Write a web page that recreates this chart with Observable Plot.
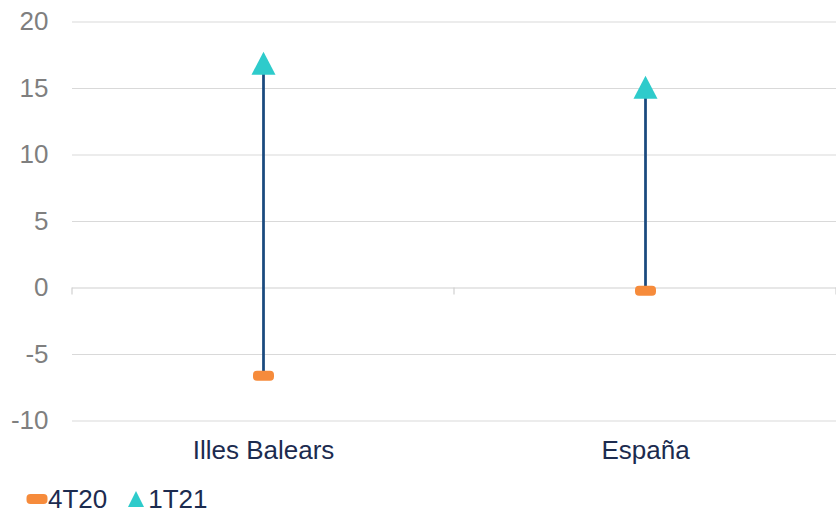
<!DOCTYPE html>
<html>
<head>
<meta charset="utf-8">
<script src="https://cdn.jsdelivr.net/npm/d3@7"></script>
<script src="https://cdn.jsdelivr.net/npm/@observablehq/plot@0.6"></script>
<style>
  html, body { margin: 0; padding: 0; background: #fff; }
  #wrap { position: relative; width: 836px; height: 513px; font-family: "Liberation Sans", Arial, sans-serif; }
  #legend { position: absolute; left: 0; top: 484px; height: 30px; display: flex; align-items: center; font-size: 26px; color: #1c2b4f; }
  #legend .item { display: flex; align-items: center; }
</style>
</head>
<body>
<div id="wrap">
  <div id="chart"></div>
  <div id="legend"></div>
</div>
<script>
const categories = ["Illes Balears", "España"];
const series = ["4T20", "1T21"];
const values4T20 = [-6.6, -0.2];
const values1T21 = [16.9, 15.1];
const yTicks = [-10, -5, 0, 5, 10, 15, 20];

const colors = { "4T20": "#F68B3B", "1T21": "#2ECBCB" };
const lineColor = "#1A4A7E";

const data = categories.map((c, i) => ({ cat: c, a: values4T20[i], b: values1T21[i] }));

const roundRect = {
  draw(ctx) {
    const w = 21, h = 10, r = 4;
    const x0 = -w / 2, y0 = -h / 2, x1 = w / 2, y1 = h / 2;
    ctx.moveTo(x0 + r, y0);
    ctx.lineTo(x1 - r, y0);
    ctx.arcTo(x1, y0, x1, y0 + r, r);
    ctx.lineTo(x1, y1 - r);
    ctx.arcTo(x1, y1, x1 - r, y1, r);
    ctx.lineTo(x0 + r, y1);
    ctx.arcTo(x0, y1, x0, y1 - r, r);
    ctx.lineTo(x0, y0 + r);
    ctx.arcTo(x0, y0, x0 + r, y0, r);
    ctx.closePath();
  }
};
const triangle = {
  draw(ctx) {
    const w = 24, h = 23;
    ctx.moveTo(0, -h / 2);
    ctx.lineTo(w / 2, h / 2);
    ctx.lineTo(-w / 2, h / 2);
    ctx.closePath();
  }
};

const chart = Plot.plot({
  width: 836,
  height: 470,
  marginLeft: 72,
  marginRight: 0,
  marginTop: 21.5,
  marginBottom: 49.5,
  style: { fontFamily: "'Liberation Sans', Arial, sans-serif", fontSize: "26px", background: "#fff" },
  x: { type: "band", domain: categories, padding: 0, align: 0.5 },
  y: { domain: [-10, 20], ticks: yTicks },
  marks: [
    Plot.ruleY(yTicks.filter(d => d !== 0), { stroke: "#d9d9d9", strokeWidth: 1.2 }),
    Plot.ruleY([0], { stroke: "#d0d0d0", strokeWidth: 1.2 }),
    Plot.axisY({ ticks: yTicks, tickSize: 0, tickPadding: 24, fontSize: 26, fill: "#7f7f7f", label: null, tickFormat: d => String(d) }),
    Plot.axisX({ tickSize: 0, tickPadding: 19.5, fontSize: 26, fill: "#1c2b4f", label: null }),
    Plot.ruleX(data, { x: "cat", y1: "a", y2: "b", stroke: lineColor, strokeWidth: 2.75 }),
    Plot.dot(data, { x: "cat", y: "a", symbol: roundRect, r: 6, fill: colors["4T20"] }),
    Plot.dot(data, { x: "cat", y: "b", symbol: triangle, r: 6, fill: colors["1T21"] })
  ]
});

// category boundary tick marks on the zero axis
const xs = chart.scale("x");
const ys = chart.scale("y");
const y0 = ys.apply(0);
const step = xs.step;
const bounds = [];
categories.forEach((c, i) => { bounds.push(xs.apply(c)); if (i === categories.length - 1) bounds.push(xs.apply(c) + step); });
const svg = d3.select(chart);
svg.append("g").selectAll("line").data(bounds).join("line")
  .attr("x1", d => d).attr("x2", d => d)
  .attr("y1", y0).attr("y2", y0 + 7)
  .attr("stroke", "#d0d0d0").attr("stroke-width", 1.2);

document.getElementById("chart").appendChild(chart);

// legend
const legend = d3.select("#legend");
const symSvg = {
  "4T20": `<svg width="22" height="12" style="margin-left:26px"><rect x="0.5" y="1" width="21" height="10" rx="4" fill="${colors["4T20"]}"/></svg>`,
  "1T21": `<svg width="18" height="18" style="margin-left:20px;margin-right:3px"><path d="M9,1L17,17L1,17Z" fill="${colors["1T21"]}"/></svg>`
};
series.forEach(s => {
  legend.append("div").attr("class", "item").html(symSvg[s] + `<span>${s}</span>`);
});
</script>
</body>
</html>
